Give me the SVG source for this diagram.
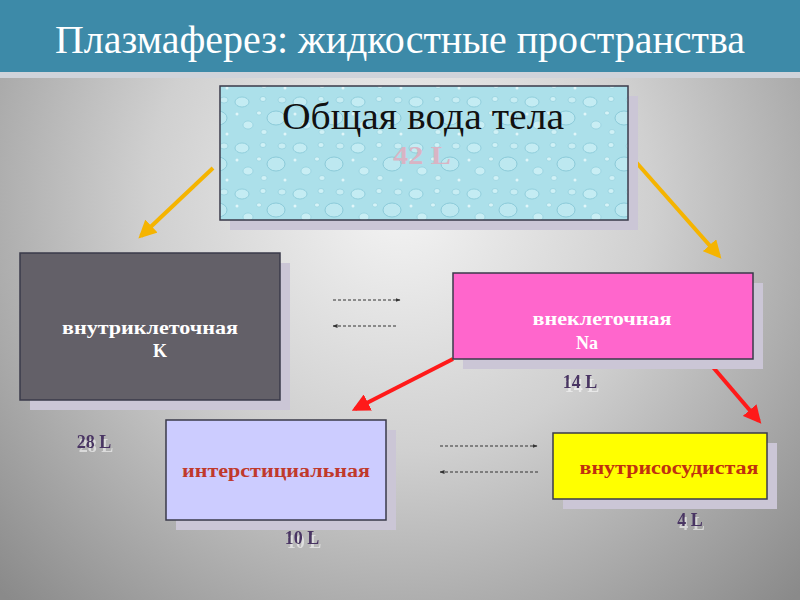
<svg xmlns="http://www.w3.org/2000/svg" width="800" height="600" viewBox="0 0 800 600">
<defs>
<radialGradient id="bg" cx="400" cy="200" r="560" gradientUnits="userSpaceOnUse">
<stop offset="0" stop-color="#f4f4f4"/>
<stop offset="0.45" stop-color="#d0d0d0"/>
<stop offset="1" stop-color="#8a8a8a"/>
</radialGradient>
<pattern id="drops" width="58" height="46" patternUnits="userSpaceOnUse">
<rect width="58" height="46" fill="#ace0ea"/>
<ellipse cx="10" cy="10" rx="7" ry="5" fill="#c4ecf3" stroke="#86c8d7" stroke-width="0.8"/>
<ellipse cx="31" cy="7" rx="3" ry="2.5" fill="#cff1f6" stroke="#8ccbd9" stroke-width="0.6"/>
<ellipse cx="44" cy="26" rx="9" ry="7" fill="#bde8f0" stroke="#80c3d3" stroke-width="0.8"/>
<ellipse cx="16" cy="33" rx="5" ry="4" fill="#c9eef4" stroke="#88c9d8" stroke-width="0.6"/>
<ellipse cx="27" cy="21" rx="2.5" ry="2" fill="#d6f3f7" stroke="#90ccda" stroke-width="0.5"/>
<ellipse cx="50" cy="8" rx="4" ry="3" fill="#c8edf3" stroke="#8ac9d8" stroke-width="0.6"/>
<ellipse cx="32" cy="40" rx="3" ry="2.5" fill="#d0f1f6" stroke="#8ccbd9" stroke-width="0.5"/>
<circle cx="5" cy="22" r="1.5" fill="#e0f6f9"/>
<circle cx="53" cy="42" r="1.5" fill="#e0f6f9"/>
</pattern>
<marker id="gold" viewBox="0 0 10 10" refX="8" refY="5" markerWidth="4.5" markerHeight="4.5" orient="auto" markerUnits="strokeWidth">
<path d="M0,0 L10,5 L0,10 z" fill="#f5b400"/>
</marker>
<marker id="red" viewBox="0 0 10 10" refX="8" refY="5" markerWidth="4.5" markerHeight="4.5" orient="auto" markerUnits="strokeWidth">
<path d="M0,0 L10,5 L0,10 z" fill="#ff1a1a"/>
</marker>
<marker id="small" viewBox="0 0 10 10" refX="9" refY="5" markerWidth="5" markerHeight="5" orient="auto" markerUnits="strokeWidth">
<path d="M0,1 L10,5 L0,9 z" fill="#333"/>
</marker>
<filter id="echo" x="-20%" y="-20%" width="140%" height="160%">
<feOffset in="SourceAlpha" dx="2" dy="4" result="o"/>
<feFlood flood-color="#ffffff" flood-opacity="0.55"/>
<feComposite in2="o" operator="in" result="s"/>
<feMerge><feMergeNode in="s"/><feMergeNode in="SourceGraphic"/></feMerge>
</filter>
</defs>
<style>
text{font-family:"Liberation Serif","Times New Roman","DejaVu Serif",serif}
.shadow{fill:#cbc6d6}
.box{stroke:#3a3a4a;stroke-width:1.5}
.lbl{font-weight:bold;font-size:18px;text-anchor:middle}
.vol{font-weight:bold;font-size:18px;fill:#4a3464;text-anchor:middle}
.dash{stroke:#333;stroke-width:1;stroke-dasharray:3,2;fill:none}
</style>
<rect width="800" height="600" fill="url(#bg)"/>
<rect x="0" y="0" width="800" height="72" fill="#3d8aa8"/>
<rect x="0" y="72" width="800" height="6" fill="#cfd3da"/>
<text x="400" y="53" font-size="40" fill="#ffffff" text-anchor="middle" textLength="690" lengthAdjust="spacingAndGlyphs">Плазмаферез: жидкостные пространства</text>

<g id="connectors">
<line x1="213" y1="168" x2="141" y2="236" stroke="#f5b400" stroke-width="4" marker-end="url(#gold)"/>
<line x1="628" y1="153" x2="719" y2="256" stroke="#f5b400" stroke-width="4" marker-end="url(#gold)"/>
<line x1="453" y1="359" x2="355" y2="409" stroke="#ff1a1a" stroke-width="4" marker-end="url(#red)"/>
<line x1="706" y1="359" x2="759" y2="421" stroke="#ff1a1a" stroke-width="4" marker-end="url(#red)"/>
<line class="dash" x1="333" y1="300" x2="400" y2="300" marker-end="url(#small)"/>
<line class="dash" x1="396" y1="326" x2="333" y2="326" marker-end="url(#small)"/>
<line class="dash" x1="440" y1="446" x2="537" y2="446" marker-end="url(#small)"/>
<line class="dash" x1="538" y1="472" x2="440" y2="472" marker-end="url(#small)"/>
</g>

<g id="total">
<rect class="shadow" x="230" y="96" width="408" height="134"/>
<rect class="box" x="220" y="86" width="408" height="134" fill="url(#drops)"/>
<text x="423" y="129" font-size="38" fill="#111" text-anchor="middle" textLength="282" lengthAdjust="spacingAndGlyphs">Общая вода тела</text>
<text x="422" y="164" font-size="26" font-weight="bold" fill="#d9b4c4" text-anchor="middle" textLength="58" lengthAdjust="spacingAndGlyphs">42 L</text>
</g>

<g id="intracellular">
<rect class="shadow" x="30" y="263" width="260" height="147"/>
<rect class="box" x="20" y="253" width="260" height="147" fill="#636068"/>
<text class="lbl" x="150" y="334" fill="#ffffff" textLength="176" lengthAdjust="spacingAndGlyphs">внутриклеточная</text>
<text class="lbl" x="160" y="357" fill="#ffffff">K</text>
<text class="vol" x="94" y="448" filter="url(#echo)">28 L</text>
</g>

<g id="extracellular">
<rect class="shadow" x="463" y="283" width="300" height="86"/>
<rect class="box" x="453" y="273" width="300" height="86" fill="#ff66cc"/>
<text class="lbl" x="602" y="325" fill="#ffffff" textLength="139" lengthAdjust="spacingAndGlyphs">внеклеточная</text>
<text class="lbl" x="587" y="349" fill="#ffffff">Na</text>
<text class="vol" x="580" y="388" filter="url(#echo)">14 L</text>
</g>

<g id="interstitial">
<rect class="shadow" x="176" y="430" width="220" height="100"/>
<rect class="box" x="166" y="420" width="220" height="100" fill="#ccccff"/>
<text class="lbl" x="276" y="477" fill="#c0392b" textLength="188" lengthAdjust="spacingAndGlyphs">интерстициальная</text>
<text class="vol" x="302" y="544" filter="url(#echo)">10 L</text>
</g>

<g id="intravascular">
<rect class="shadow" x="563" y="443" width="214" height="66"/>
<rect class="box" x="553" y="433" width="214" height="66" fill="#ffff00"/>
<text class="lbl" x="669" y="474" fill="#c0300f" textLength="179" lengthAdjust="spacingAndGlyphs">внутрисосудистая</text>
<text class="vol" x="690" y="526" filter="url(#echo)">4 L</text>
</g>
</svg>
